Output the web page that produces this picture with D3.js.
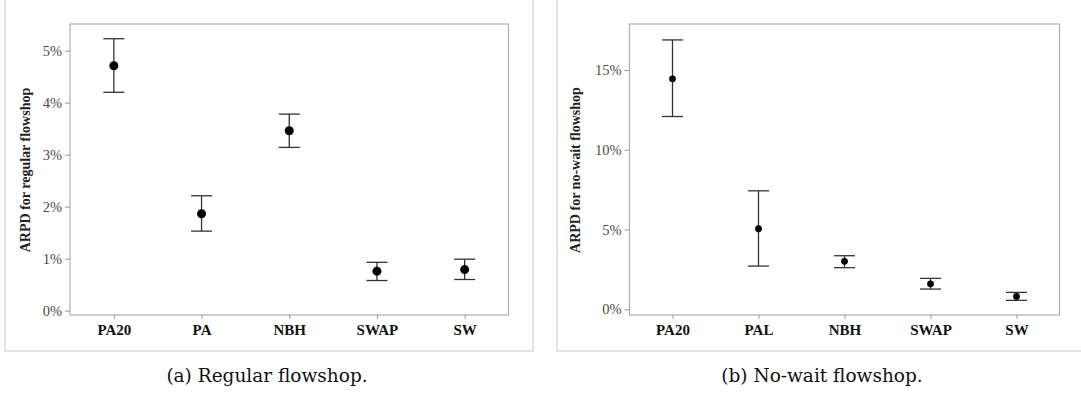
<!DOCTYPE html>
<html>
<head>
<meta charset="utf-8">
<script src="https://cdn.jsdelivr.net/npm/d3@7"></script>
<style>
  body { margin: 0; background: #fff; }
  svg { display: block; }
  .serif { font-family: "Liberation Serif", "Times New Roman", Times, serif; }
  .caption { font-family: "DejaVu Serif", serif; }
</style>
</head>
<body>
<svg id="chart" width="1081" height="394"></svg>
<script>
// (a) regular flowshop
var regularMethods = ["PA20", "PA", "NBH", "SWAP", "SW"];
var regularMean = [4.71, 1.865, 3.46, 0.76, 0.79];
var regularLow = [4.20, 1.53, 3.14, 0.58, 0.60];
var regularHigh = [5.23, 2.21, 3.78, 0.93, 0.99];
var regularTicks = [0, 1, 2, 3, 4, 5];

// (b) no-wait flowshop
var noWaitMethods = ["PA20", "PAL", "NBH", "SWAP", "SW"];
var noWaitMean = [14.45, 5.05, 3.01, 1.60, 0.81];
var noWaitLow = [12.09, 2.71, 2.61, 1.27, 0.56];
var noWaitHigh = [16.89, 7.43, 3.36, 1.94, 1.06];
var noWaitTicks = [0, 5, 10, 15];

var svg = d3.select("#chart");

function drawPanel(p) {
    var g = svg.append("g");

    // outer figure frame
    g.append("rect")
      .attr("x", p.frame[0]).attr("y", -5)
      .attr("width", p.frame[1] - p.frame[0]).attr("height", 351 + 5)
      .attr("fill", "none").attr("stroke", "#d4d4d4").attr("stroke-width", 1.3);

    var x = d3.scalePoint()
      .domain(p.methods)
      .range([p.left, p.right])
      .padding(0.5);

    var y = d3.scaleLinear()
      .domain(p.yDomain)
      .range([315, 24]);

    // plot box
    g.append("rect")
      .attr("x", p.left).attr("y", 24)
      .attr("width", p.right - p.left).attr("height", 315 - 24)
      .attr("fill", "none").attr("stroke", "#b0b0b0").attr("stroke-width", 1.2);

    // y axis
    var yAxis = g.append("g")
      .attr("transform", "translate(" + p.left + ",0)")
      .call(d3.axisLeft(y).tickValues(p.ticks).tickSize(5).tickPadding(3)
            .tickFormat(function(d) { return d + "%"; }));
    yAxis.attr("font-family", null).attr("font-size", null);
    yAxis.select(".domain").remove();
    yAxis.selectAll("line").attr("stroke", "#999");
    yAxis.selectAll("text")
      .attr("class", "serif")
      .attr("fill", "#4a4a4a")
      .style("font-size", "14.5px");

    // x axis
    var xAxis = g.append("g")
      .attr("transform", "translate(0,315)")
      .call(d3.axisBottom(x).tickSize(4).tickPadding(5));
    xAxis.attr("font-family", null).attr("font-size", null);
    xAxis.select(".domain").remove();
    xAxis.selectAll("line").attr("stroke", "#999");
    xAxis.selectAll("text")
      .attr("class", "serif")
      .attr("fill", "#111")
      .style("font-weight", "bold")
      .style("font-size", "15px");

    // axis title
    g.append("text")
      .attr("class", "serif")
      .attr("transform", "translate(" + p.titleX + ",170) rotate(-90)")
      .attr("text-anchor", "middle")
      .attr("fill", "#222")
      .style("font-weight", "bold")
      .style("font-size", "14px")
      .text(p.yTitle);

    var rows = p.methods.map(function(m, i) {
        return {m: m, mean: p.mean[i], lo: p.low[i], hi: p.high[i]};
    });

    // error bars
    var bars = g.selectAll(".eb").data(rows).enter().append("g")
      .attr("stroke", "#333").attr("stroke-width", 1.3);
    bars.append("line")
      .attr("x1", function(d) { return x(d.m); })
      .attr("x2", function(d) { return x(d.m); })
      .attr("y1", function(d) { return y(d.lo); })
      .attr("y2", function(d) { return y(d.hi); });
    bars.append("line")
      .attr("x1", function(d) { return x(d.m) - 10.5; })
      .attr("x2", function(d) { return x(d.m) + 10.5; })
      .attr("y1", function(d) { return y(d.hi); })
      .attr("y2", function(d) { return y(d.hi); });
    bars.append("line")
      .attr("x1", function(d) { return x(d.m) - 10.5; })
      .attr("x2", function(d) { return x(d.m) + 10.5; })
      .attr("y1", function(d) { return y(d.lo); })
      .attr("y2", function(d) { return y(d.lo); });

    // means
    g.selectAll(".pt").data(rows).enter().append("circle")
      .attr("cx", function(d) { return x(d.m); })
      .attr("cy", function(d) { return y(d.mean); })
      .attr("r", p.r)
      .attr("fill", "#000");

    // caption
    g.append("text")
      .attr("class", "caption")
      .attr("x", p.capX).attr("y", 382)
      .attr("text-anchor", "middle")
      .attr("fill", "#111")
      .style("font-size", "18.5px")
      .style("font-weight", "300")
      .text(p.caption);
}

drawPanel({
    methods: regularMethods, mean: regularMean, low: regularLow, high: regularHigh,
    ticks: regularTicks, yDomain: [-0.083, 5.513],
    left: 70, right: 508.5, frame: [5, 533], titleX: 30, r: 4.5,
    yTitle: "ARPD for regular flowshop",
    caption: "(a) Regular flowshop.", capX: 267
});

drawPanel({
    methods: noWaitMethods, mean: noWaitMean, low: noWaitLow, high: noWaitHigh,
    ticks: noWaitTicks, yDomain: [-0.357, 17.89],
    left: 629.5, right: 1059.5, frame: [557, 1090], titleX: 580, r: 3.4,
    yTitle: "ARPD for no-wait flowshop",
    caption: "(b) No-wait flowshop.", capX: 822
});
</script>
</body>
</html>
